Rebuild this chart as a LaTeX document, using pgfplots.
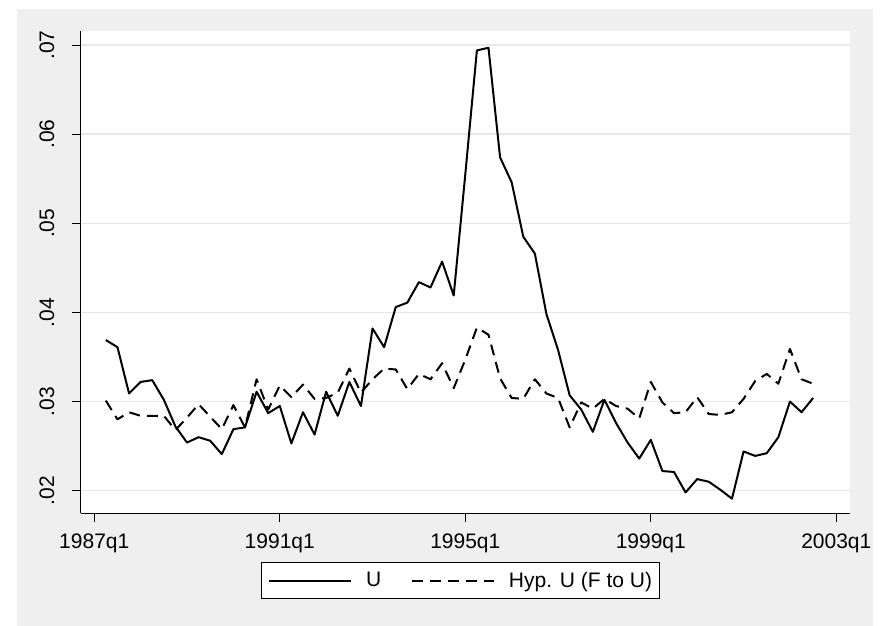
\documentclass[border=0pt]{standalone}
\usepackage{fontspec}
\setmainfont{Liberation Sans}
\usepackage{pgfplots}
\pgfplotsset{compat=1.18}
\definecolor{bggray}{RGB}{239,239,239}
\definecolor{gridgray}{RGB}{232,232,232}
\begin{document}
\begin{tikzpicture}
\useasboundingbox (0bp,0bp) rectangle (886bp,626bp);
\fill[bggray] (17bp,0bp) rectangle (873bp,617bp);
\begin{axis}[
 at={(80.7bp,112.7bp)}, anchor=south west,
 scale only axis, width=769.3bp, height=482.3bp,
 xmin=-1.17, xmax=65.18, ymin=0.01746, ymax=0.07158,
 axis lines=left, axis line style={-, line width=1bp, black},
 tick align=outside, major tick length=9bp,
 tick style={line width=1bp, black},
 scaled y ticks=false,
 xtick={0,16,32,48,64}, xticklabels={1987q1,1991q1,1995q1,1999q1,2003q1},
 ytick={0.02,0.03,0.04,0.05,0.06,0.07}, yticklabels={.02,.03,.04,.05,.06,.07},
 ymajorgrids, major grid style={gridgray, line width=1.5bp},
 axis background/.style={fill=white},
 tick label style={font=\fontsize{21bp}{25bp}\selectfont},
 xticklabel style={yshift=-8bp},
 yticklabel style={rotate=90, anchor=south, inner sep=0pt, text depth=17.4bp},
 legend columns=2, legend cell align=left,
 legend style={at={(0.4934,-0.1004)}, anchor=north, draw=black, line width=0.8bp, fill=white,
   inner xsep=7.5bp, inner ysep=10bp, font=\fontsize{21bp}{25bp}\selectfont,
   nodes={inner sep=0pt},
   /tikz/every odd column/.append style={column sep=13.7bp},
   /tikz/every even column/.append style={column sep=30bp}},
 legend image code/.code={\draw[#1, line width=2bp] (0bp,-1bp) -- (82bp,-1bp);},
]
\addplot[black, line width=2bp, line join=round] coordinates {
(1,0.0369)(2,0.0361)(3,0.0309)(4,0.0322)(5,0.0324)(6,0.0302)(7,0.0272)(8,0.0254)
(9,0.0260)(10,0.0256)(11,0.0241)(12,0.0269)(13,0.0271)(14,0.0311)(15,0.0287)(16,0.0295)
(17,0.0253)(18,0.0288)(19,0.0263)(20,0.0311)(21,0.0284)(22,0.0322)(23,0.0295)(24,0.0382)
(25,0.0361)(26,0.0406)(27,0.0411)(28,0.0434)(29,0.0428)(30,0.0457)(31,0.0419)(32,0.0555)
(33,0.0694)(34,0.0697)(35,0.0574)(36,0.0546)(37,0.0485)(38,0.0466)(39,0.0398)(40,0.0358)
(41,0.0307)(42,0.0291)(43,0.0266)(44,0.0302)(45,0.0276)(46,0.0254)(47,0.0236)(48,0.0257)
(49,0.0222)(50,0.0221)(51,0.0198)(52,0.0213)(53,0.0210)(54,0.0201)(55,0.0191)(56,0.0244)
(57,0.0239)(58,0.0242)(59,0.0260)(60,0.0300)(61,0.0288)(62,0.0304)
};
\addlegendentry{U}
\addplot[black, line width=2bp, line join=round, dash pattern=on 11bp off 7bp] coordinates {
(1,0.0301)(2,0.0280)(3,0.0288)(4,0.0284)(5,0.0284)(6,0.0284)(7,0.0268)(8,0.0282)
(9,0.0297)(10,0.0283)(11,0.0269)(12,0.0296)(13,0.0271)(14,0.0325)(15,0.0291)(16,0.0318)
(17,0.0305)(18,0.0319)(19,0.0303)(20,0.0304)(21,0.0310)(22,0.0337)(23,0.0310)(24,0.0325)
(25,0.0337)(26,0.0336)(27,0.0314)(28,0.0331)(29,0.0325)(30,0.0343)(31,0.0315)(32,0.0347)
(33,0.0383)(34,0.0375)(35,0.0326)(36,0.0304)(37,0.0303)(38,0.0325)(39,0.0309)(40,0.0304)
(41,0.0271)(42,0.0299)(43,0.0292)(44,0.0303)(45,0.0295)(46,0.0292)(47,0.0281)(48,0.0322)
(49,0.0299)(50,0.0287)(51,0.0288)(52,0.0305)(53,0.0286)(54,0.0285)(55,0.0288)(56,0.0303)
(57,0.0323)(58,0.0331)(59,0.0320)(60,0.0359)(61,0.0325)(62,0.0320)
};
\addlegendentry{Hyp. U (F to U)}
\end{axis}
\end{tikzpicture}
\end{document}
